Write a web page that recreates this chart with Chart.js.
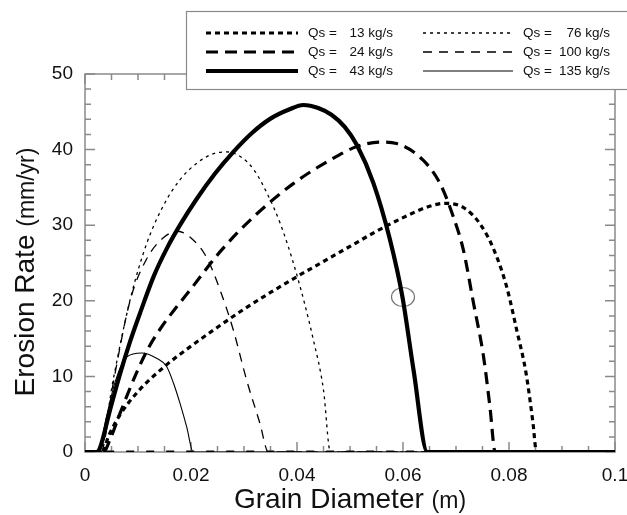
<!DOCTYPE html>
<html>
<head>
<meta charset="utf-8">
<script src="https://cdn.jsdelivr.net/npm/chart.js@4"></script>
<style>
  html, body { margin: 0; padding: 0; background: #fff; }
  #wrap { width: 627px; height: 515px; }
</style>
</head>
<body>
<div id="wrap"><canvas id="myChart" width="627" height="515"></canvas></div>
<script>
// grain diameter (m) and erosion rate (mm/yr)
const d13 = [0, 0.0032, 0.0045, 0.0065, 0.010, 0.015, 0.020, 0.025, 0.030, 0.035, 0.040, 0.045, 0.050, 0.055, 0.060, 0.065, 0.068, 0.0715, 0.0745, 0.0770, 0.0795, 0.0815, 0.0832, 0.0845, 0.0852, 0.1]
const e13 = [0, 0, 2.2, 4.8, 8.0, 11.3, 14.0, 16.5, 18.9, 21.1, 23.2, 25.2, 27.2, 29.2, 31.0, 32.5, 32.9, 32.3, 30.2, 27.0, 22.0, 16.0, 10.5, 4.0, 0, 0]

const d24 = [0, 0.0035, 0.0047, 0.0066, 0.0098, 0.0120, 0.0145, 0.0173, 0.0198, 0.0255, 0.0318, 0.0393, 0.0462, 0.0513, 0.0557, 0.0588, 0.0638, 0.0670, 0.0695, 0.0714, 0.0733, 0.0752, 0.0764, 0.0774, 0.1]
const e24 = [0, 0, 1.6, 5.1, 10.6, 13.8, 16.6, 19.2, 21.4, 26.5, 31.1, 35.5, 38.6, 40.4, 41.0, 40.8, 38.6, 35.5, 31.1, 26.7, 19.7, 12.6, 6.0, 0, 0]

const d43 = [0, 0.0022, 0.0028, 0.0047, 0.0066, 0.0085, 0.0105, 0.0130, 0.0155, 0.0180, 0.0210, 0.0245, 0.0280, 0.0315, 0.0350, 0.0385, 0.0412, 0.0440, 0.0465, 0.0490, 0.0513, 0.0544, 0.0575, 0.0599, 0.0620, 0.0646, 0.1]
const e43 = [0, 0, 0.5, 5.5, 10.3, 14.6, 18.6, 23.3, 27.0, 30.1, 33.4, 36.8, 39.7, 42.2, 44.1, 45.3, 45.9, 45.5, 44.6, 43.0, 40.6, 35.6, 28.2, 20.5, 10.8, 0, 0]

const d76 = [0, 0.0028, 0.0053, 0.0085, 0.0116, 0.0148, 0.0179, 0.0211, 0.0240, 0.0267, 0.0295, 0.0320, 0.0345, 0.0368, 0.0399, 0.0431, 0.0450, 0.0463, 0.1]
const e76 = [0, 0, 9.5, 20.1, 27.5, 32.6, 36.0, 38.2, 39.4, 39.7, 39.0, 37.2, 34.0, 30.3, 23.6, 14.8, 8.2, 0, 0]

const d100 = [0, 0.003, 0.0053, 0.0085, 0.0116, 0.0149, 0.0175, 0.0200, 0.0229, 0.0255, 0.0280, 0.0305, 0.0330, 0.0346, 0.1]
const e100 = [0, 0, 9.0, 20.0, 25.5, 28.4, 29.2, 28.3, 25.8, 21.4, 16.1, 9.5, 3.8, 0, 0]

const d135 = [0, 0.0025, 0.004, 0.0057, 0.0079, 0.0107, 0.0135, 0.0154, 0.0167, 0.0179, 0.0192, 0.0204, 0.1]
const e135 = [0, 0, 4.5, 9.3, 12.6, 13.1, 12.4, 11.3, 9.1, 6.5, 3.3, 0, 0]

// thick dashed trace lying on the zero line
const baseD = [0.004, 0.065]
const baseE = [0, 0]

// open circle on the 43 kg/s curve
const markerD = [0.06]
const markerE = [20.5]

const xTicks = [0, 0.02, 0.04, 0.06, 0.08, 0.1]
const yTicks = [0, 10, 20, 30, 40, 50]

const legendLabels = ['13 kg/s', '24 kg/s', '43 kg/s', '76 kg/s', '100 kg/s', '135 kg/s']

const FONT = "'Liberation Sans', Arial, Helvetica, sans-serif"

const toPoints = (xs, ys) => xs.map((x, i) => ({ x: x, y: ys[i] }))

const lineStyles = [
  { width: 3.2, dash: [5, 4] },
  { width: 3.2, dash: [12, 7] },
  { width: 4.2, dash: [] },
  { width: 1.3, dash: [3, 4] },
  { width: 1.3, dash: [9, 7] },
  { width: 1.1, dash: [] }
]

const series = [[d13, e13], [d24, e24], [d43, e43], [d76, e76], [d100, e100], [d135, e135]]

const datasets = series.map((s, i) => ({
  label: legendLabels[i],
  data: toPoints(s[0], s[1]),
  borderColor: '#000',
  borderWidth: lineStyles[i].width,
  borderDash: lineStyles[i].dash,
  pointRadius: 0,
  fill: false,
  cubicInterpolationMode: 'monotone'
}))

datasets.unshift({
  label: 'base',
  data: toPoints(baseD, baseE),
  borderColor: '#000',
  borderWidth: 3,
  borderDash: [8, 12],
  pointRadius: 0,
  fill: false
})

// slightly flattened open circle
const ring = document.createElement('canvas')
ring.width = 26
ring.height = 22
const rctx = ring.getContext('2d')
rctx.beginPath()
rctx.ellipse(13, 11, 11.5, 9.5, 0, 0, Math.PI * 2)
rctx.fillStyle = '#fff'
rctx.fill()
rctx.strokeStyle = '#777'
rctx.lineWidth = 1.2
rctx.stroke()

datasets.push({
  label: 'marker',
  data: toPoints(markerD, markerE),
  showLine: false,
  pointStyle: ring,
  pointRadius: 11
})

// frame with inward ticks on all four sides
const framePlugin = {
  id: 'frame',
  beforeDatasetsDraw(chart) {
    const { ctx, chartArea: a, scales } = chart
    const x = scales.x, y = scales.y
    ctx.save()
    ctx.strokeStyle = '#8a8a8a'
    ctx.lineWidth = 1.5
    ctx.strokeRect(a.left, a.top, a.right - a.left, a.bottom - a.top)
    ctx.beginPath()
    for (let i = 0; i <= 20; i++) {
      const px = x.getPixelForValue(i * 0.005)
      const len = i % 4 === 0 ? 10 : 6
      ctx.moveTo(px, a.bottom); ctx.lineTo(px, a.bottom - len)
      ctx.moveTo(px, a.top); ctx.lineTo(px, a.top + len)
    }
    for (let i = 0; i <= 25; i++) {
      const py = y.getPixelForValue(i * 2)
      const len = i % 5 === 0 ? 10 : 6
      ctx.moveTo(a.left, py); ctx.lineTo(a.left + len, py)
      ctx.moveTo(a.right, py); ctx.lineTo(a.right - len, py)
    }
    ctx.stroke()
    ctx.restore()
  }
}

// axis titles with a smaller unit part
const titlePlugin = {
  id: 'titles',
  afterDraw(chart) {
    const { ctx, chartArea: a } = chart
    const drawMixed = (big, small, cx, cy) => {
      ctx.font = `28px ${FONT}`
      const w1 = ctx.measureText(big).width
      ctx.font = `23px ${FONT}`
      const w2 = ctx.measureText(small).width
      const sx = cx - (w1 + w2) / 2
      ctx.fillStyle = '#111'
      ctx.textBaseline = 'alphabetic'
      ctx.textAlign = 'left'
      ctx.font = `28px ${FONT}`
      ctx.fillText(big, sx, cy)
      ctx.font = `23px ${FONT}`
      ctx.fillText(small, sx + w1, cy)
    }
    ctx.save()
    drawMixed('Grain Diameter ', '(m)', (a.left + a.right) / 2, 508)
    ctx.translate(34, 272)
    ctx.rotate(-Math.PI / 2)
    drawMixed('Erosion Rate ', '(mm/yr)', 0, 0)
    ctx.restore()
  }
}

// boxed legend in the upper right
const legendPlugin = {
  id: 'boxLegend',
  afterDraw(chart) {
    const { ctx } = chart
    ctx.save()
    ctx.fillStyle = '#fff'
    ctx.fillRect(186, 11, 450, 79)
    ctx.strokeStyle = '#8a8a8a'
    ctx.lineWidth = 1.2
    ctx.strokeRect(186.5, 11.5, 450, 78)
    const rows = [33, 52, 71]
    const cols = [{ x0: 206, x1: 298, qs: 308, right: 393 }, { x0: 423, x1: 513, qs: 523, right: 610 }]
    legendLabels.forEach((lab, i) => {
      const c = cols[Math.floor(i / 3)]
      const ry = rows[i % 3]
      const st = lineStyles[i]
      ctx.strokeStyle = '#000'
      ctx.lineWidth = st.width
      ctx.setLineDash(st.dash)
      ctx.beginPath()
      ctx.moveTo(c.x0, ry); ctx.lineTo(c.x1, ry)
      ctx.stroke()
      ctx.setLineDash([])
      ctx.fillStyle = '#111'
      ctx.font = `13.5px ${FONT}`
      ctx.textBaseline = 'middle'
      ctx.textAlign = 'left'
      ctx.fillText('Qs =', c.qs, ry)
      ctx.textAlign = 'right'
      ctx.fillText(lab, c.right, ry)
    })
    ctx.restore()
  }
}

const chartCanvas = document.getElementById('myChart')

new Chart(chartCanvas, {
  type: 'line',
  data: { datasets: datasets },
  options: {
    responsive: false,
    animation: false,
    devicePixelRatio: 1,
    layout: { padding: { top: 74, right: 12, left: 0, bottom: 0 } },
    plugins: { legend: { display: false }, tooltip: { enabled: false } },
    scales: {
      x: {
        type: 'linear',
        min: 0,
        max: 0.1,
        afterFit: (scale) => {
          scale.height = 63
          scale.paddingLeft = 0
          scale.paddingRight = 0
        },
        afterBuildTicks: (scale) => { scale.ticks = xTicks.map(v => ({ value: v })) },
        grid: { display: false, drawTicks: false },
        border: { display: false },
        ticks: {
          padding: 12,
          color: '#111',
          font: { family: FONT, size: 19 },
          callback: (v) => String(+v.toFixed(2))
        }
      },
      y: {
        type: 'linear',
        min: 0,
        max: 50,
        afterFit: (scale) => {
          scale.width = 85
          scale.paddingTop = 0
          scale.paddingBottom = 0
        },
        afterBuildTicks: (scale) => { scale.ticks = yTicks.map(v => ({ value: v })) },
        grid: { display: false, drawTicks: false },
        border: { display: false },
        ticks: {
          padding: 12,
          color: '#111',
          font: { family: FONT, size: 19 }
        }
      }
    }
  },
  plugins: [framePlugin, titlePlugin, legendPlugin]
})
</script>
</body>
</html>
